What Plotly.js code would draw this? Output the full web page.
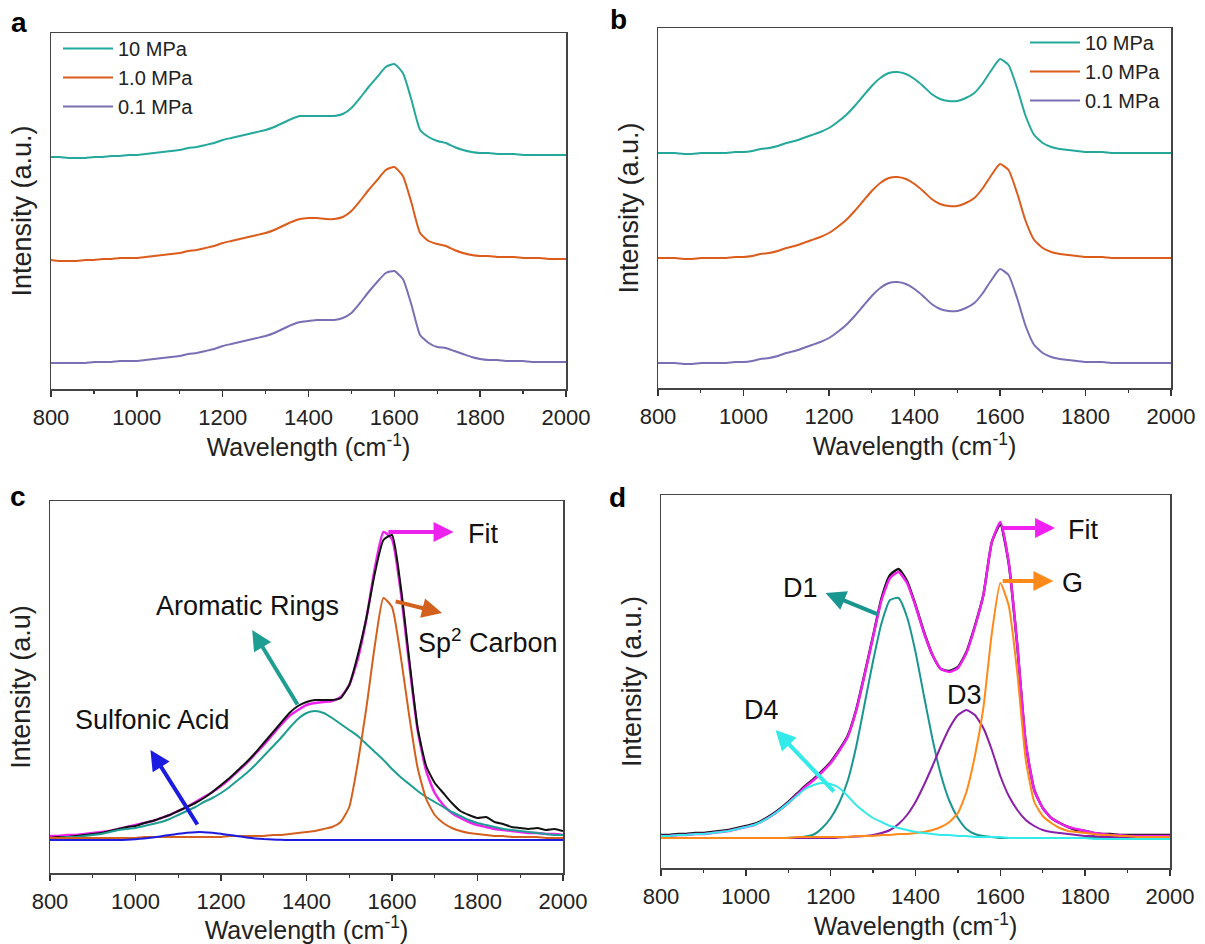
<!DOCTYPE html>
<html>
<head>
<meta charset="utf-8">
<script src="https://cdn.plot.ly/plotly-3.0.1.min.js"></script>
<style>html,body{margin:0;padding:0;background:#fff;}#chart{width:1205px;height:944px;}</style>
</head>
<body>
<div id="chart"></div>
<script>
// Raman shift grid (cm-1)
var wavenumber = [800,820,840,860,880,900,920,940,960,980,1000,
  1020,1040,1060,1080,1100,1120,1140,1160,1180,1200,
  1220,1240,1260,1280,1300,1320,1340,1360,1380,1400,
  1420,1440,1460,1480,1500,1520,1540,1560,1580,1600,
  1620,1640,1660,1680,1700,1720,1740,1760,1780,1800,
  1820,1840,1860,1880,1900,1920,1940,1960,1980,2000];

// Panel a: spectra (offset stacked, a.u.)
var a_10MPa = [232,232,231,231,231,232,232,233,233,234,234, 235,236,237,238,239,241,242,244,246,249, 251,253,255,257,259,262,266,270,273,273, 273,273,273,275,281,291,302,312,322,325, 316,289,259,252,248,246,242,239,237,236, 236,235,235,235,234,234,234,234,234,234];
var a_1MPa  = [129,128,128,128,129,129,130,130,131,131,131, 132,133,134,135,136,138,139,141,143,146, 148,150,152,154,156,159,163,167,170,171, 171,170,170,172,178,188,199,209,219,222, 213,186,156,148,145,143,139,136,134,133, 133,132,132,132,131,131,131,130,130,130];
var a_01MPa = [26,26,26,26,26,27,27,27,28,28,28, 29,30,31,32,33,35,36,38,40,43, 45,47,49,51,53,56,60,64,67,68, 69,69,69,71,76,86,97,107,116,118, 110,84,54,46,42,41,38,35,32,30, 29,29,28,28,28,27,27,27,27,27];

// Panel b: spectra (offset stacked, a.u.)
var b_10MPa = [235,235,235,234,234,235,235,235,235,236,236, 237,239,240,242,245,247,250,253,256,260, 266,273,282,292,302,310,315,316,314,309, 302,294,289,287,287,290,295,305,318,329, 323,300,272,253,245,241,239,238,237,236, 236,236,235,235,235,235,235,235,235,235];
var b_1MPa  = [130,130,130,129,129,130,130,130,130,131,131, 132,134,135,137,140,142,145,148,151,155, 161,168,177,187,197,205,210,211,209,204, 197,189,184,182,182,185,190,200,213,224, 218,195,167,148,140,136,134,133,132,131, 131,131,130,130,130,130,130,130,130,130];
var b_01MPa = [25,25,25,24,24,25,25,25,25,26,26, 27,29,30,32,35,37,40,43,46,50, 56,63,72,82,92,100,105,106,104,99, 92,84,79,77,77,80,85,95,108,119, 113,90,62,43,35,31,29,28,27,26, 26,26,25,25,25,25,25,25,25,25];

// Panel c: measured spectrum, fit and components
var c_data     = [35,36,36,37,38,39,40,42,44,46,47, 50,52,55,58,62,66,70,75,81,88, 95,103,111,120,130,140,150,160,167,171, 173,173,173,175,188,218,255,300,333,338, 288,215,145,107,90,80,70,62,58,55, 56,51,49,46,45,44,45,43,44,42];
var c_fit      = [37,37,38,38,39,40,41,42,44,46,48, 50,52,55,58,62,66,71,76,81,87, 94,102,110,119,128,138,148,157,163,168, 170,171,172,176,188,214,254,305,341,334, 283,210,143,102,80,68,60,55,51,48, 46,44,43,42,41,40,40,39,39,38];
var c_aromatic = [35,35,36,36,37,38,39,41,43,44,45, 47,49,51,54,58,62,66,71,75,80, 86,93,100,108,117,126,135,145,154,160, 162,160,155,149,143,137,129,121,113,104, 96,89,82,76,71,66,61,57,53,50, 48,46,44,43,42,41,40,39,38,38];
var c_sp2      = [35,35,35,35,35,35,35,35,35,35,35, 36,36,36,36,36,36,36,36,36,36, 37,37,37,37,37,38,38,39,40,41, 42,44,46,51,66,110,165,228,275,266, 218,158,105,74,58,50,45,42,40,39, 38,37,37,36,36,36,36,35,35,35];
var c_sulfonic = [33,33,33,33,33,33,33,33,33,33.3,33.8, 34.5,35.5,36.8,38,39.2,40.2,40.8,40.8,40.2,39.2, 38,36.8,35.6,34.6,33.9,33.5,33.2,33,33,33, 33,33,33,33,33,33,33,33,33,33, 33,33,33,33,33,33,33,33,33,33, 33,33,33,33,33,33,33,33,33,33];

// Panel d: measured spectrum, fit and components
var d_data = [33,33,34,34,35,35,36,37,38,40,42, 44,48,53,59,66,74,82,89,97,106, 118,132,158,194,232,270,293,299,287,263, 236,213,199,197,201,216,242,273,326,344, 304,222,124,78,60,50,45,41,38,37, 35,34,34,33,33,33,33,33,33,33];
var d_fit  = [32,32,33,33,34,34,35,36,37,39,41, 43,47,52,58,65,73,81,88,96,105, 117,131,157,193,231,268,290,296,285,262, 235,213,199,196,200,215,241,273,326,346, 305,223,125,78,60,50,45,41,39,37, 35,34,33,33,32,32,32,32,32,32];
var d_D1   = [30,30,30,30,30,30,30,30,30,30,30, 30,30,30,30,30.2,30.5,31.4,33.5,40,50, 65,87,121,164,207,245,268,270,251,216, 172,129,93,67,50,39,34,32,31,30, 30,30,30,30,30,30,30,30,30,30, 30,30,30,30,30,30,30,30,30,30];
var d_D4   = [32,32,33,33,34,34,35,36,37,39,41, 43,47,52,58,65,72,79,83,85,84, 80,72,63,56,50,46,42,40,38,36, 35,34,33,33,32,32,31,31,31,31, 30,30,30,30,30,30,30,30,30,30, 29,29,29,29,29,29,29,29,29,29];
var d_D3   = [30,30,30,30,30,30,30,30,30,30,30, 30,30,30,30,30,30,30,30,30,30, 30.5,31,31.5,32,33,35,38,44,53,66, 83,102,122,140,153,158,153,140,118,92, 72,58,48,42,38,36,35,34,33,32, 32,31,31,31,30,30,30,30,30,30];
var d_G    = [30,30,30,30,30,30,30,30,30,30,30, 30,30,30,30,30,31,31,31,31,31, 31,31,32,32,32,33,33,34,34,35, 36,38,41,46,55,76,112,160,235,285, 262,195,108,66,52,45,40,37,36,35, 34,33,33,32,32,31,31,31,31,31];

var seriesNames = ['10 MPa','1.0 MPa','0.1 MPa'];
var xTicks = [800,1000,1200,1400,1600,1800,2000];

var FONT = 'Liberation Sans, Arial, sans-serif';
var TEAL = '#25a89c', ORANGE = '#dc5c1c', PURPLE = '#7a6fb4';

function line(x, y, color, xa, ya, name, legend, width) {
  return {x: x, y: y, type: 'scatter', mode: 'lines', name: name || '',
    line: {color: color, width: width || 2, shape: 'spline', smoothing: 0.5},
    xaxis: xa, yaxis: ya, showlegend: !!legend, legend: legend || 'legend', hoverinfo: 'skip'};
}

var traces = [
  line(wavenumber, a_10MPa, TEAL, 'x', 'y', seriesNames[0], 'legend'),
  line(wavenumber, a_1MPa, ORANGE, 'x', 'y', seriesNames[1], 'legend'),
  line(wavenumber, a_01MPa, PURPLE, 'x', 'y', seriesNames[2], 'legend'),
  line(wavenumber, b_10MPa, TEAL, 'x2', 'y2', seriesNames[0], 'legend2'),
  line(wavenumber, b_1MPa, ORANGE, 'x2', 'y2', seriesNames[1], 'legend2'),
  line(wavenumber, b_01MPa, PURPLE, 'x2', 'y2', seriesNames[2], 'legend2'),
  line(wavenumber, c_fit, '#ee22ee', 'x3', 'y3', 'Fit', null, 2.5),
  line(wavenumber, c_data, '#111111', 'x3', 'y3', 'Data', null, 2),
  line(wavenumber, c_aromatic, '#1e9e92', 'x3', 'y3', 'Aromatic Rings', null, 2),
  line(wavenumber, c_sp2, '#d4601e', 'x3', 'y3', 'Sp2 Carbon', null, 2),
  line(wavenumber, c_sulfonic, '#1c1ce0', 'x3', 'y3', 'Sulfonic Acid', null, 2),
  line(wavenumber, d_data, '#111111', 'x4', 'y4', 'Data', null, 2.5),
  line(wavenumber, d_fit, '#f020f0', 'x4', 'y4', 'Fit', null, 2.5),
  line(wavenumber, d_D1, '#1a9690', 'x4', 'y4', 'D1', null, 2),
  line(wavenumber, d_D3, '#8a1fa8', 'x4', 'y4', 'D3', null, 2),
  line(wavenumber, d_G, '#ff8a1a', 'x4', 'y4', 'G', null, 2),
  line(wavenumber, d_D4, '#33eaea', 'x4', 'y4', 'D4', null, 2)
];

function xax(domain, anchor) {
  return {domain: domain, anchor: anchor, range: [800, 2000], tickvals: xTicks,
    ticks: 'outside', ticklen: 6, tickwidth: 1.5, tickcolor: '#333',
    minor: {dtick: 100, tick0: 800, ticks: 'outside', ticklen: 3, tickwidth: 1.2, tickcolor: '#333'},
    showline: true, mirror: true, linecolor: '#444', linewidth: 1.5,
    showgrid: false, zeroline: false, ticklabelstandoff: 2,
    tickfont: {family: FONT, size: 22, color: '#222'},
    title: {text: 'Wavelength (cm<sup>-1</sup>)', font: {family: FONT, size: 25, color: '#222'}, standoff: 8}};
}
function yax(domain, anchor, range, title) {
  return {domain: domain, anchor: anchor, range: range, showticklabels: false, ticks: '',
    showline: true, mirror: true, linecolor: '#444', linewidth: 1.5,
    showgrid: false, zeroline: false,
    title: {text: title, font: {family: FONT, size: 27, color: '#222'}, standoff: 10}};
}

function arrow(xr, yr, x, y, ax, ay, color) {
  return {xref: xr, yref: yr, axref: xr, ayref: yr, x: x, y: y, ax: ax, ay: ay, text: '',
    showarrow: true, arrowhead: 2, arrowsize: 1, arrowwidth: 4, arrowcolor: color, standoff: 0, startstandoff: 0};
}
function label(xr, yr, x, y, text) {
  return {xref: xr, yref: yr, x: x, y: y, text: text, showarrow: false,
    xanchor: 'center', yanchor: 'middle', font: {family: FONT, size: 27, color: '#111'}};
}
function panel(x, y, text) {
  return {xref: 'paper', yref: 'paper', x: x / 1205, y: 1 - y / 944, text: '<b>' + text + '</b>',
    showarrow: false, xanchor: 'center', yanchor: 'middle', font: {family: FONT, size: 28, color: '#000'}};
}

var layout = {
  width: 1205, height: 944, margin: {l: 0, r: 0, t: 0, b: 0},
  paper_bgcolor: '#fff', plot_bgcolor: '#fff', showlegend: true,
  font: {family: FONT},
  xaxis: xax([51/1205, 566/1205], 'y'),
  yaxis: yax([1 - 389/944, 1 - 33/944], 'x', [0, 356], 'Intensity (a.u.)'),
  xaxis2: xax([658/1205, 1171/1205], 'y2'),
  yaxis2: yax([1 - 388/944, 1 - 28/944], 'x2', [0, 360], 'Intensity (a.u.)'),
  xaxis3: xax([50/1205, 563/1205], 'y3'),
  yaxis3: yax([1 - 873/944, 1 - 501/944], 'x3', [0, 372], 'Intensity (a.u)'),
  xaxis4: xax([661/1205, 1170/1205], 'y4'),
  yaxis4: yax([1 - 868/944, 1 - 495/944], 'x4', [0, 373], 'Intensity (a.u.)'),
  legend: {x: 58/1205, y: 1 - 29/944, xanchor: 'left', yanchor: 'top', bgcolor: 'rgba(0,0,0,0)',
    font: {family: FONT, size: 20, color: '#222'}, itemwidth: 50, tracegroupgap: 0},
  legend2: {x: 1025/1205, y: 1 - 23/944, xanchor: 'left', yanchor: 'top', bgcolor: 'rgba(0,0,0,0)',
    font: {family: FONT, size: 20, color: '#222'}, itemwidth: 50, tracegroupgap: 0},
  annotations: [
    panel(19, 22, 'a'), panel(619, 20, 'b'), panel(18, 496, 'c'), panel(617, 497, 'd'),
    // panel c
    arrow('x3', 'y3', 1744, 341, 1588, 341, '#ee22ee'),
    label('x3', 'y3', 1812, 339, 'Fit'),
    arrow('x3', 'y3', 1273, 243, 1381, 167, '#1e9e92'),
    label('x3', 'y3', 1262, 267, 'Aromatic Rings'),
    arrow('x3', 'y3', 1717, 260, 1605, 272, '#d4601e'),
    label('x3', 'y3', 1825, 232, 'Sp<sup>2</sup> Carbon'),
    arrow('x3', 'y3', 1035, 123, 1147, 47, '#1c1ce0'),
    label('x3', 'y3', 1040, 153, 'Sulfonic Acid'),
    // panel d
    arrow('x4', 'y4', 1729, 340, 1602, 340, '#f020f0'),
    label('x4', 'y4', 1795, 338, 'Fit'),
    arrow('x4', 'y4', 1725, 287, 1602, 287, '#ff8a1a'),
    label('x4', 'y4', 1770, 285, 'G'),
    arrow('x4', 'y4', 1188, 275, 1315, 253, '#1a9690'),
    label('x4', 'y4', 1129, 280, 'D1'),
    label('x4', 'y4', 1515, 173, 'D3'),
    arrow('x4', 'y4', 1070, 138, 1211, 75, '#33eaea'),
    label('x4', 'y4', 1038, 158, 'D4')
  ]
};

Plotly.newPlot('chart', traces, layout, {staticPlot: true, displayModeBar: false});
</script>
</body>
</html>
